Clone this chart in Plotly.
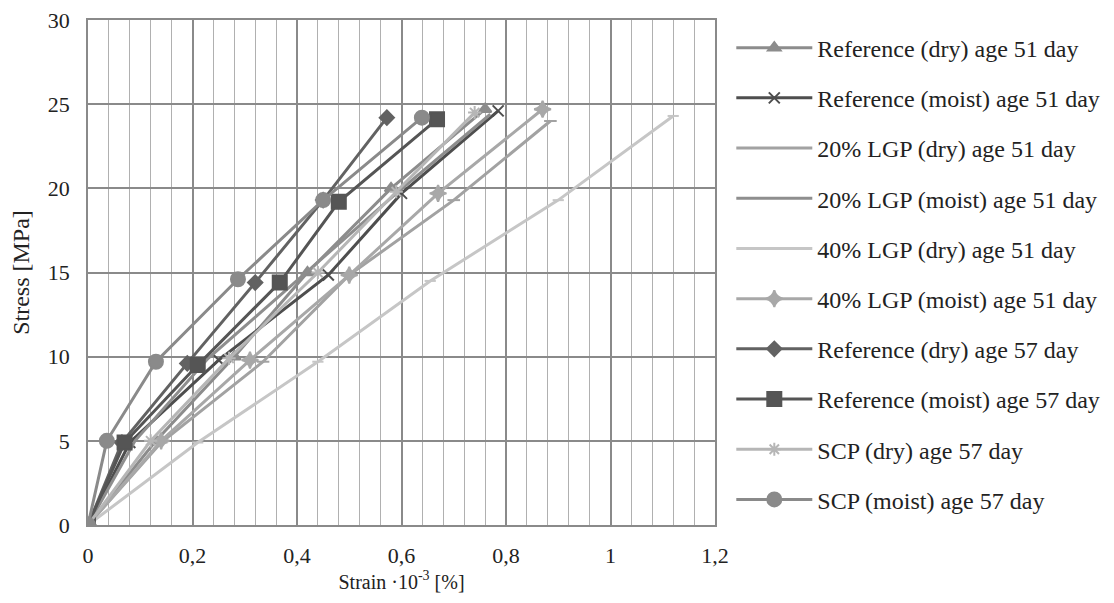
import plotly.graph_objects as go

# Series data (strain ·10^-3 [%], stress [MPa])
ref_dry_51_x = [0, 0.13, 0.28, 0.42, 0.58, 0.76]
ref_dry_51_y = [0, 5.0, 10.0, 15.0, 20.0, 24.7]
ref_moist_51_x = [0, 0.08, 0.25, 0.46, 0.60, 0.785]
ref_moist_51_y = [0, 4.9, 9.8, 14.85, 19.7, 24.6]
lgp20_dry_51_x = [0, 0.14, 0.335, 0.50, 0.70, 0.885]
lgp20_dry_51_y = [0, 4.9, 9.7, 14.85, 19.3, 24.0]
lgp20_moist_51_x = [0, 0.09, 0.23, 0.41, 0.59, 0.77]
lgp20_moist_51_y = [0, 5.0, 9.9, 14.8, 19.7, 24.4]
lgp40_dry_51_x = [0, 0.21, 0.44, 0.655, 0.90, 1.12]
lgp40_dry_51_y = [0, 4.9, 9.7, 14.5, 19.3, 24.3]
lgp40_moist_51_x = [0, 0.14, 0.31, 0.50, 0.67, 0.87]
lgp40_moist_51_y = [0, 5.0, 9.8, 14.85, 19.7, 24.7]
ref_dry_57_x = [0, 0.065, 0.19, 0.32, 0.45, 0.572]
ref_dry_57_y = [0, 4.9, 9.6, 14.4, 19.3, 24.2]
ref_moist_57_x = [0, 0.07, 0.21, 0.367, 0.48, 0.668]
ref_moist_57_y = [0, 4.9, 9.5, 14.4, 19.2, 24.1]
scp_dry_57_x = [0, 0.12, 0.27, 0.44, 0.59, 0.74]
scp_dry_57_y = [0, 5.0, 9.9, 15.0, 19.8, 24.5]
scp_moist_57_x = [0, 0.036, 0.13, 0.287, 0.45, 0.639]
scp_moist_57_y = [0, 5.0, 9.7, 14.6, 19.3, 24.2]

names = [
    "Reference (dry) age 51 day",
    "Reference (moist) age 51 day",
    "20% LGP (dry) age 51 day",
    "20% LGP (moist) age 51 day",
    "40% LGP (dry) age 51 day",
    "40% LGP (moist) age 51 day",
    "Reference (dry) age 57 day",
    "Reference (moist) age 57 day",
    "SCP (dry) age 57 day",
    "SCP (moist) age 57 day",
]
xs = [ref_dry_51_x, ref_moist_51_x, lgp20_dry_51_x, lgp20_moist_51_x, lgp40_dry_51_x,
      lgp40_moist_51_x, ref_dry_57_x, ref_moist_57_x, scp_dry_57_x, scp_moist_57_x]
ys = [ref_dry_51_y, ref_moist_51_y, lgp20_dry_51_y, lgp20_moist_51_y, lgp40_dry_51_y,
      lgp40_moist_51_y, ref_dry_57_y, ref_moist_57_y, scp_dry_57_y, scp_moist_57_y]
colors = ["#8c8c8c", "#4e4e4e", "#a2a2a2", "#8e8e8e", "#c6c6c6",
          "#a8a8a8", "#626262", "#555555", "#b6b6b6", "#8a8a8a"]
symbols = ["triangle-up", "x-thin-open", "line-ew-open", "circle", "line-ew-open",
           "star-diamond", "diamond", "square", "asterisk-open", "circle"]
sizes = [11, 11, 9, 0, 8, 12, 11, 14, 11, 14]
modes = ["lines+markers"] * 10
modes[3] = "lines"

fig = go.Figure()
for i in range(10):
    fig.add_trace(go.Scatter(
        x=xs[i], y=ys[i], name=names[i], mode=modes[i],
        legendgroup=str(i),
        line=dict(color=colors[i], width=3),
        marker=dict(symbol=symbols[i], size=sizes[i], color=colors[i],
                    line=dict(color=colors[i], width=2)),
    ))

FONT = "Liberation Serif"
fig.update_layout(
    width=1114, height=603,
    margin=dict(l=80, r=407, t=12, b=86, autoexpand=False),
    paper_bgcolor="white", plot_bgcolor="white",
    separators=", ",
    font=dict(family=FONT, size=20, color="#222222"),
    showlegend=True,
    legend=dict(x=1.026, y=0.989, xanchor="left", yanchor="top",
                tracegroupgap=16, itemwidth=76,
                font=dict(family=FONT, size=24, color="#222222"),
                bgcolor="rgba(0,0,0,0)"),
)
fig.update_xaxes(
    range=[0, 1.2], dtick=0.2, tick0=0, automargin=False,
    showgrid=True, gridcolor="#8a8a8a", gridwidth=1.5,
    minor=dict(dtick=0.04, showgrid=True, gridcolor="#b0b0b0", gridwidth=1),
    showline=True, linecolor="#8a8a8a", linewidth=1.5, mirror=True,
    zeroline=False, ticks="", ticklabelstandoff=10, ticklabeloverflow="allow",
    title=dict(text="Strain ·10<sup>-3</sup> [%]", standoff=6,
               font=dict(family=FONT, size=20)),
    tickfont=dict(family=FONT, size=22),
)
fig.update_yaxes(
    range=[0, 30], dtick=5, automargin=False,
    showgrid=True, gridcolor="#8a8a8a", gridwidth=1.5,
    showline=True, linecolor="#8a8a8a", linewidth=1.5, mirror=True,
    zeroline=False, ticks="", ticklabelstandoff=12, ticklabeloverflow="allow",
    title=dict(text="Stress [MPa]", standoff=16,
               font=dict(family=FONT, size=24)),
    tickfont=dict(family=FONT, size=22),
)

fig.write_html("out.html")
